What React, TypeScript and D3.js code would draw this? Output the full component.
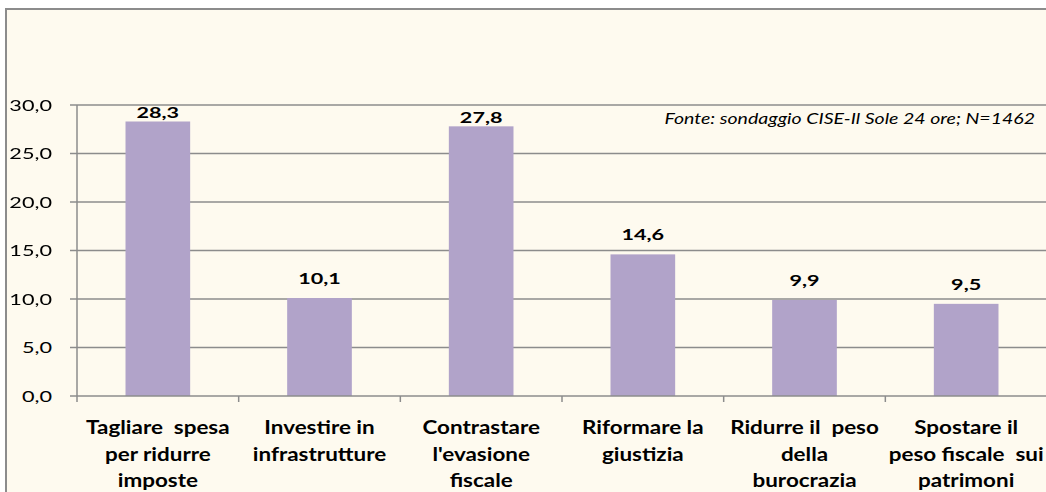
import React from "react";
import * as d3 from "d3";

const categories: string[][] = [
  ["Tagliare  spesa", "per ridurre", "imposte"],
  ["Investire in", "infrastrutture"],
  ["Contrastare", "l'evasione", "fiscale"],
  ["Riformare la", "giustizia"],
  ["Ridurre il  peso", "della", "burocrazia"],
  ["Spostare il", "peso fiscale  sui", "patrimoni"],
];
const values: number[] = [28.3, 10.1, 27.8, 14.6, 9.9, 9.5];
const yTicks: number[] = [0, 5, 10, 15, 20, 25, 30];
const source = "Fonte: sondaggio CISE-Il Sole 24 ore; N=1462";

const W = 1046;
const H = 492;
const FONT = "Lato, 'Open Sans', sans-serif";
const fmt = (v: number) => v.toFixed(1).replace(".", ",");

type STProps = {
  x: number;
  y: number;
  sx: number;
  anchor: "start" | "middle" | "end";
  size: number;
  weight?: string;
  italic?: boolean;
  dy?: string;
  children: React.ReactNode;
};

function SText({ x, y, sx, anchor, size, weight, italic, dy, children }: STProps) {
  return (
    <g transform={`translate(${x},${y}) scale(${sx},1)`}>
      <text
        x={0}
        y={0}
        dy={dy}
        textAnchor={anchor}
        fontFamily={FONT}
        fontSize={size}
        fontWeight={weight || "normal"}
        fontStyle={italic ? "italic" : "normal"}
        fill="#000"
        style={{ whiteSpace: "pre" }}
      >
        {children}
      </text>
    </g>
  );
}

export default function App() {
  const left = 77;
  const right = 1047;
  const top = 105;
  const bottom = 396;
  const x = d3
    .scaleBand<number>()
    .domain(d3.range(categories.length))
    .range([left, right])
    .paddingInner(0.6)
    .paddingOuter(0.3);
  const band = (right - left) / categories.length;
  const y = d3.scaleLinear().domain([0, 30]).range([bottom, top]);
  const grid = "#8c8c8c";

  return (
    <svg
      width={W}
      height={H}
      style={{ position: "fixed", left: 0, top: 0, display: "block" }}
    >
      <rect x={0} y={0} width={W} height={H} fill="#ffffff" />
      <rect
        x={6}
        y={9}
        width={W + 10}
        height={H + 10}
        fill="#fefaef"
        stroke="#8c8c8c"
        strokeWidth={2}
      />
      {yTicks.map((t) => (
        <g key={t}>
          {t > 0 && (
            <line x1={left} x2={W} y1={y(t)} y2={y(t)} stroke={grid} strokeWidth={1.5} />
          )}
          <line x1={left - 7} x2={left} y1={y(t)} y2={y(t)} stroke={grid} strokeWidth={1.5} />
          <SText x={52} y={y(t)} sx={1.4} anchor="end" size={15.5} dy="0.36em">
            {fmt(t)}
          </SText>
        </g>
      ))}
      {values.map((v, i) => {
        const bx = x(i)!;
        const bw = x.bandwidth();
        const barTop = y(v);
        const labelY = barTop - 26 >= top ? barTop - 14 : barTop - 3.5;
        return (
          <g key={i}>
            <rect x={bx} y={barTop} width={bw} height={bottom - barTop} fill="#b1a3c9" />
            <SText x={bx + bw / 2} y={labelY} sx={1.35} anchor="middle" size={16} weight="bold">
              {fmt(v)}
            </SText>
          </g>
        );
      })}
      <line x1={left} x2={left} y1={top} y2={bottom} stroke={grid} strokeWidth={1.5} />
      <line x1={left} x2={W} y1={bottom} y2={bottom} stroke={grid} strokeWidth={1.5} />
      {d3.range(categories.length + 1).map((i) => (
        <line
          key={i}
          x1={left + i * band}
          x2={left + i * band}
          y1={bottom}
          y2={bottom + 6}
          stroke={grid}
          strokeWidth={1.5}
        />
      ))}
      {categories.map((lines, i) =>
        lines.map((l, j) => (
          <SText
            key={`${i}-${j}`}
            x={x(i)! + x.bandwidth() / 2}
            y={434 + j * 26.5}
            sx={1.15}
            anchor="middle"
            size={19.5}
            weight="bold"
          >
            {l}
          </SText>
        ))
      )}
      <SText x={1035} y={124} sx={1.22} anchor="end" size={16} italic>
        {source}
      </SText>
    </svg>
  );
}
